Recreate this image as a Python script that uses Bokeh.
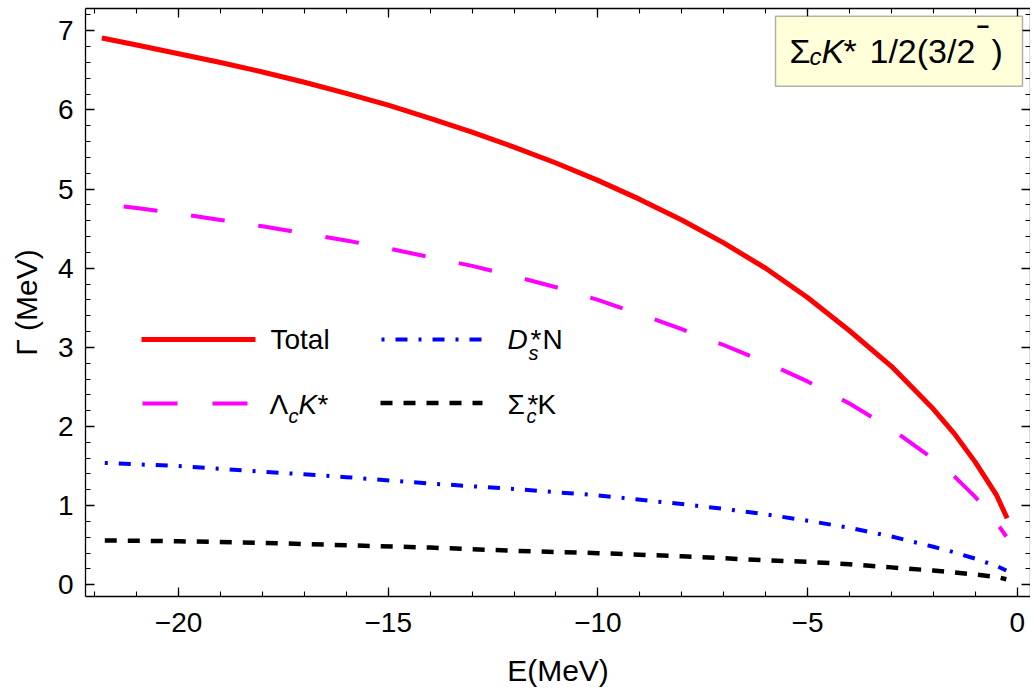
from bokeh.plotting import figure
from bokeh.models import Range1d, FixedTicker, LinearAxis, Label, BoxAnnotation, Arrow
from bokeh.embed import file_html
from bokeh.resources import INLINE

# ---- data ----
total_E = [-21.83, -21, -20, -19, -18, -17, -16, -15, -14, -13, -12, -11, -10, -9, -8,
           -7, -6, -5, -4, -3, -2, -1.5, -1, -0.5, -0.24]
total_G = [6.91, 6.82, 6.71, 6.60, 6.48, 6.35, 6.21, 6.06, 5.895, 5.72, 5.53, 5.33, 5.11, 4.87, 4.61,
           4.32, 4.00, 3.63, 3.21, 2.76, 2.22, 1.91, 1.55, 1.14, 0.84]

lck_E = [-21.31, -21, -20, -19, -18, -17, -16, -15, -14, -13, -12, -11, -10, -9, -8,
         -7, -6, -5, -4, -3, -2, -1.5, -1, -0.5, -0.26]
lck_G = [4.78, 4.76, 4.69, 4.61, 4.53, 4.44, 4.35, 4.25, 4.14, 4.03, 3.90, 3.76, 3.60, 3.42, 3.23,
         3.03, 2.81, 2.57, 2.29, 1.97, 1.59, 1.37, 1.11, 0.79, 0.61]

dsn_E = [-21.76, -20, -18, -16, -14, -12, -10, -8, -7, -6, -5, -4, -3, -2, -1.5, -1, -0.5, -0.26]
dsn_G = [1.54, 1.50, 1.43, 1.36, 1.28, 1.21, 1.13, 1.02, 0.96, 0.89, 0.81, 0.72, 0.61, 0.48,
         0.41, 0.33, 0.24, 0.18]

sck_E = [-21.76, -20, -18, -16, -14, -12, -10, -8, -6, -5, -4, -3, -2, -1, -0.5, -0.26]
sck_G = [0.56, 0.55, 0.53, 0.50, 0.47, 0.43, 0.40, 0.36, 0.31, 0.29, 0.26, 0.22, 0.18, 0.13,
         0.10, 0.07]

x_major = [-20, -15, -10, -5, 0]
x_labels = ["\u221220", "\u221215", "\u221210", "\u22125", "0"]
x_minor = list(range(-22, 1))
y_major = [0, 1, 2, 3, 4, 5, 6, 7]
y_labels = ["0", "1", "2", "3", "4", "5", "6", "7"]
y_minor = [round(0.2 * i, 1) for i in range(0, 37)]

FONT = "Liberation Sans"

p = figure(width=1030, height=690, output_backend="svg", toolbar_location=None,
           x_range=Range1d(-22.22, 0.317), y_range=Range1d(-0.148, 7.282),
           min_border_left=85, min_border_right=0, min_border_top=8, min_border_bottom=94,
           background_fill_color="white", border_fill_color="white",
           outline_line_color=None)
p.grid.visible = False


def style_axis(ax):
    ax.axis_line_color = "black"
    ax.axis_line_width = 1.3
    ax.major_tick_line_color = "black"
    ax.major_tick_line_width = 1.3
    ax.minor_tick_line_color = "black"
    ax.minor_tick_line_width = 1.1
    ax.major_tick_in = 9
    ax.major_tick_out = 0
    ax.minor_tick_in = 5
    ax.minor_tick_out = 0
    ax.major_label_text_font = FONT
    ax.major_label_text_font_size = "28px"
    ax.major_label_text_color = "black"
    ax.axis_label_text_font = FONT
    ax.axis_label_text_font_size = "30px"
    ax.axis_label_text_font_style = "normal"
    ax.axis_label_text_color = "black"


xa = p.xaxis[0]
xa.ticker = FixedTicker(ticks=x_major, minor_ticks=x_minor)
xa.major_label_overrides = dict(zip(x_major, x_labels))
xa.axis_label = "E(MeV)"
style_axis(xa)
xa.major_label_standoff = 16
xa.axis_label_standoff = 19

ya = p.yaxis[0]
ya.ticker = FixedTicker(ticks=y_major, minor_ticks=y_minor)
ya.major_label_overrides = dict(zip(y_major, y_labels))
ya.axis_label = "\u0393 (MeV)"
style_axis(ya)
ya.major_label_standoff = 12
ya.axis_label_standoff = 12

top = LinearAxis(ticker=FixedTicker(ticks=x_major, minor_ticks=x_minor))
style_axis(top)
top.major_label_overrides = {t: "" for t in x_major}
top.major_label_text_font_size = "0px"
top.major_label_standoff = 0
p.add_layout(top, "above")

right = LinearAxis(ticker=FixedTicker(ticks=y_major, minor_ticks=y_minor))
style_axis(right)
right.major_label_overrides = {t: "" for t in y_major}
right.major_label_text_font_size = "0px"
right.major_label_standoff = 0
p.add_layout(right, "right")

# ---- curves ----
p.line(total_E, total_G, line_color="#ff0000", line_width=5)
p.line(lck_E, lck_G, line_color="#ff00ff", line_width=4, line_dash="34 34")
p.line(dsn_E, dsn_G, line_color="#0000ff", line_width=4, line_dash="3 11 12 11")
p.line(sck_E, sck_G, line_color="#000000", line_width=4.5, line_dash="12 11")


# ---- legend (screen units, relative to frame bottom-left) ----
def seg(x0, x1, y, **kw):
    p.add_layout(Arrow(end=None, x_start=x0, y_start=y, x_end=x1, y_end=y,
                       start_units="screen", end_units="screen", **kw))


def txt(x, base, s, size, style="normal", align="left"):
    # 'base' is the wanted baseline height; shift for how the label is anchored
    p.add_layout(Label(x=x, y=base + 0.35 * size, x_units="screen", y_units="screen", text=s,
                       text_font=FONT, text_font_size=f"{size}px",
                       text_font_style=style, text_color="black",
                       text_baseline="alphabetic", text_align=align))


seg(56, 170, 257, line_color="#ff0000", line_width=5)
seg(57, 170, 193, line_color="#ff00ff", line_width=4, line_dash="35 35")
seg(296, 397, 257, line_color="#0000ff", line_width=4, line_dash="3 11 12 11")
seg(295, 397, 193.5, line_color="#000000", line_width=4.5, line_dash="12 11")

r1, r2 = 247, 182.7
txt(185, r1, "Total", 28)
txt(184, r2, "\u039b", 28)
txt(203, r2 - 9, "c", 20, "italic")
txt(213, r2, "K", 28, "italic")
txt(232, r2, "*", 28)

txt(422, r1, "D", 28, "italic")
txt(443, r1 - 10, "s", 20, "italic")
txt(445, r1, "*", 28)
txt(457, r1, "N", 28)

txt(422, r2, "\u03a3", 28)
txt(441, r2 - 9, "c", 20, "italic")
txt(442, r2, "*", 28)
txt(452, r2, "K", 28)

# ---- title box ----
p.add_layout(BoxAnnotation(left=690, right=937, bottom=510.3, top=580.3,
                           left_units="screen", right_units="screen",
                           bottom_units="screen", top_units="screen",
                           fill_color="#ffffd9", fill_alpha=1.0,
                           line_color="black", line_width=1.5))
tb = 533.7
txt(704, tb, "\u03a3", 34)
txt(724, tb - 2, "c", 24, "italic")
txt(736, tb, "K", 34, "italic")
txt(758, tb, "*", 34)
txt(784, tb, "1/2(3/2", 34)
txt(891, 562, "\u2212", 22, "bold")
txt(906, tb, ")", 34)

open("out.html", "w").write(file_html(p, INLINE))
